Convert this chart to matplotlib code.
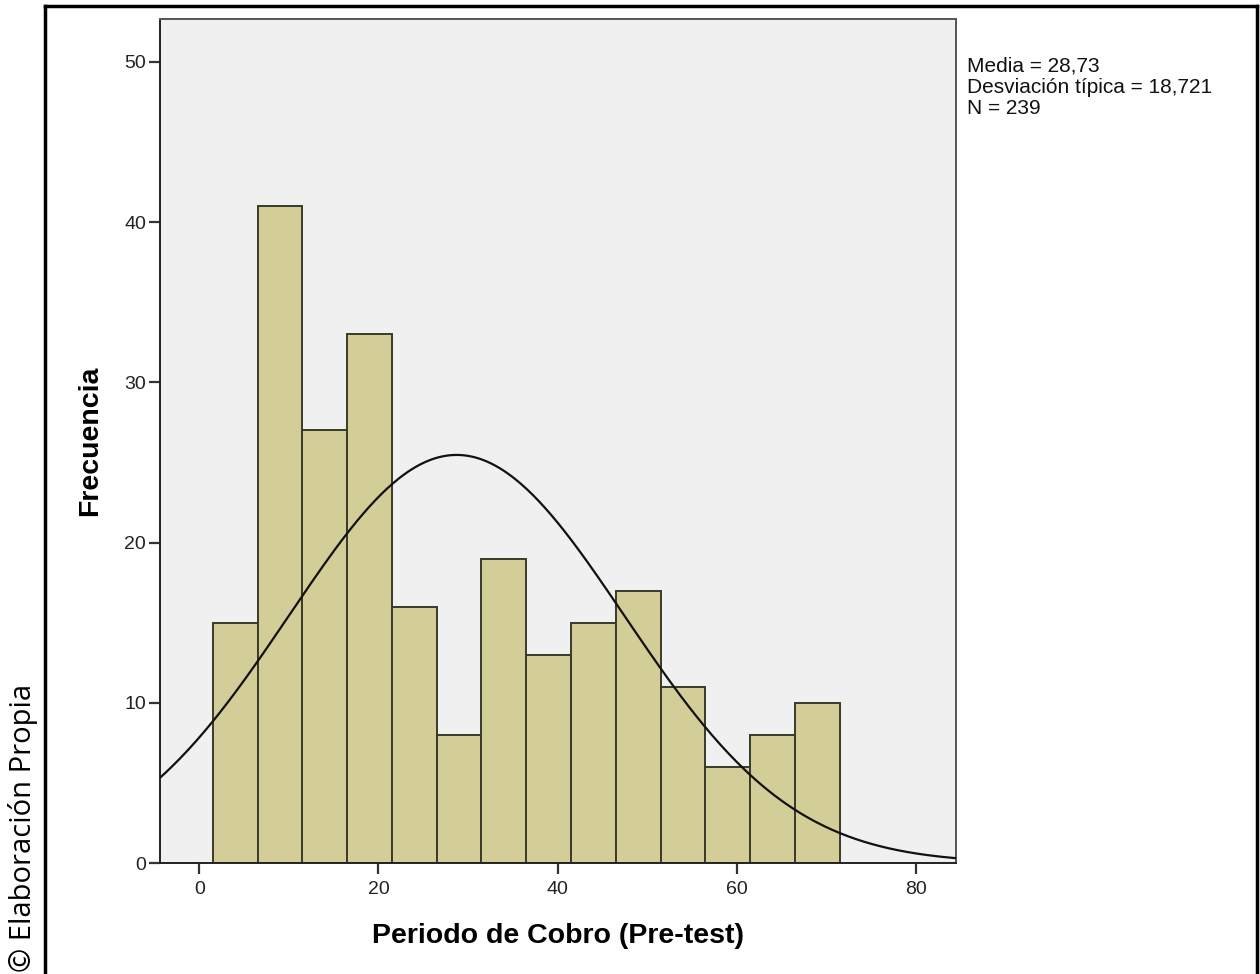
import numpy as np
import matplotlib.pyplot as plt

plt.rcParams['font.family'] = ['Liberation Sans', 'DejaVu Sans']

# Histogram of "Periodo de Cobro (Pre-test)"
bin_edges = [1.5, 6.5, 11.5, 16.5, 21.5, 26.5, 31.5, 36.5, 41.5, 46.5,
             51.5, 56.5, 61.5, 66.5, 71.5]
counts = [15, 41, 27, 33, 16, 8, 19, 13, 15, 17, 11, 6, 8, 10]

media = 28.73
desv = 18.721
n_total = 239

x_ticks = [0, 20, 40, 60, 80]
y_ticks = [0, 10, 20, 30, 40, 50]

W, H = 1260, 974
fig = plt.figure(figsize=(W / 100, H / 100), dpi=100)

# outer frame (left, top, right)
fig.add_artist(plt.Line2D([45 / W, 45 / W], [0, 1 - 6 / H], color='black', lw=2.5))
fig.add_artist(plt.Line2D([45 / W, 1257 / W], [1 - 6 / H, 1 - 6 / H], color='black', lw=2.5))
fig.add_artist(plt.Line2D([1257 / W, 1257 / W], [0, 1 - 6 / H], color='black', lw=2.5))

ax = fig.add_axes([160 / W, 1 - 863 / H, (956 - 160) / W, (863 - 18.5) / H])
ax.set_facecolor('#f0f0f0')

widths = np.diff(bin_edges)
ax.bar(bin_edges[:-1], counts, width=widths, align='edge',
       color='#d3ce97', edgecolor='#3a3a2a', linewidth=1.4, zorder=2)

# fitted normal curve
xs = np.linspace(-4.4, 84.5, 400)
bw = widths[0]
ys = n_total * bw / (desv * np.sqrt(2 * np.pi)) * np.exp(-0.5 * ((xs - media) / desv) ** 2)
ax.plot(xs, ys, color='#111111', lw=1.6, zorder=3)

ax.set_xlim(-4.4, 84.5)
ax.set_ylim(0, 52.7)
ax.set_xticks(x_ticks)
ax.set_yticks(y_ticks)
ax.tick_params(direction='out', length=8, width=1.6, color='#333333',
               labelsize=14, labelcolor='#222222', pad=2)
ax.tick_params(axis='x', pad=5)

for s in ax.spines.values():
    s.set_color('#555555')
    s.set_linewidth(1.4)
ax.spines['left'].set_color('#222222')
ax.spines['bottom'].set_color('#222222')

ax.set_xlabel('Periodo de Cobro (Pre-test)', fontsize=20.5, fontweight='bold', labelpad=18)
ax.set_ylabel('Frecuencia', fontsize=20.5, fontweight='bold', labelpad=15)

fig.text(967 / W, 1 - 57 / H,
         'Media = 28,73\nDesviación típica = 18,721\nN = 239',
         fontsize=15, va='top', ha='left', linespacing=1.15, color='#111111')

fig.text(23 / W, 1 - 828 / H, '© Elaboración Propia', rotation=90,
         fontsize=21, family='Open Sans', va='center', ha='center')

fig.savefig('out.png', dpi=100)
